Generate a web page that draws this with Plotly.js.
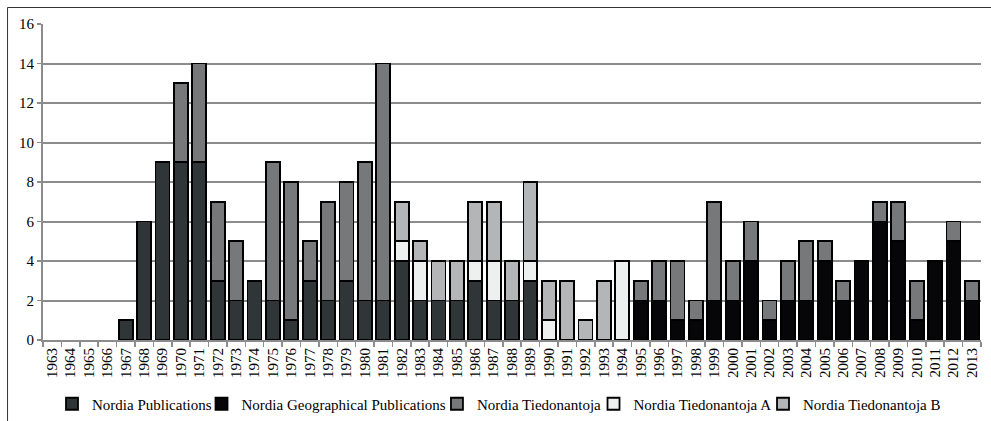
<!DOCTYPE html>
<html>
<head>
<meta charset="utf-8">
<script src="https://cdn.plot.ly/plotly-3.0.1.min.js"></script>
<style>
html,body{margin:0;padding:0;background:#fff;}
#chart{width:991px;height:421px;}
</style>
</head>
<body>
<div id="chart"></div>
<script>
var years = [];
for (var y = 1963; y <= 2013; y++) years.push(String(y));

var nordiaPublications = [0,0,0,0,1,6,9,9,9,3,2,3,2,1,3,2,3,2,2,4,2,2,2,3,2,2,3,
  0,0,0,0,0,0,0,0,0,0,0,0,0,0,0,0,0,0,0,0,0,0,0,0];
var nordiaGeographical = [0,0,0,0,0,0,0,0,0,0,0,0,0,0,0,0,0,0,0,0,0,0,0,0,0,0,0,0,0,0,0,0,
  2,2,1,1,2,2,4,1,2,2,4,2,4,6,5,1,4,5,2];
var nordiaTiedonantoja = [0,0,0,0,0,0,0,
  4,5,4,3,0,7,7,2,5,5,7,12,
  0,0,0,0,0,0,0,0,0,0,0,0,0,
  1,2,3,1,5,2,2,1,2,3,1,1,0,1,2,2,0,1,1];
var nordiaTiedonantojaA = [0,0,0,0,0,0,0,0,0,0,0,0,0,0,0,0,0,0,0,
  1,2,0,0,1,2,0,1,1,0,0,0,4,
  0,0,0,0,0,0,0,0,0,0,0,0,0,0,0,0,0,0,0];
var nordiaTiedonantojaB = [0,0,0,0,0,0,0,0,0,0,0,0,0,0,0,0,0,0,0,
  2,1,2,2,3,3,2,4,2,3,1,3,0,
  0,0,0,0,0,0,0,0,0,0,0,0,0,0,0,0,0,0,0];

var seriesNames = ['Nordia Publications','Nordia Geographical Publications','Nordia Tiedonantoja','Nordia Tiedonantoja A','Nordia Tiedonantoja B'];
var seriesValues = [nordiaPublications, nordiaGeographical, nordiaTiedonantoja, nordiaTiedonantojaA, nordiaTiedonantojaB];
var seriesColors = ['#303538','#060609','#77787a','#eeefef','#b3b5b7'];
var legendIds = ['legend','legend2','legend3','legend4','legend5'];
var legendX = [0.0096, 0.169, 0.42, 0.5869, 0.7676];

var serif = "'Liberation Serif', 'Times New Roman', Times, serif";
var gridCol = '#8c8c8c';

var traces = seriesNames.map(function(n, i){
  return {
    type: 'bar',
    name: n,
    x: years,
    y: seriesValues[i].map(function(v){ return v === 0 ? null : v; }),
    marker: {color: seriesColors[i], line: {color: '#000', width: 1.8}},
    legend: legendIds[i],
    hoverinfo: 'x+y+name'
  };
});

var layout = {
  width: 991, height: 421,
  margin: {l: 43, r: 10, t: 24, b: 81, autoexpand: false},
  paper_bgcolor: '#fff', plot_bgcolor: '#fff',
  barmode: 'stack',
  bargap: 0.24,
  font: {family: serif, size: 15, color: '#000'},
  showlegend: true,
  xaxis: {
    type: 'category',
    tickangle: -90,
    tickson: 'boundaries',
    ticks: 'outside', ticklen: 5, tickcolor: gridCol, tickwidth: 1.5,
    showline: true, linecolor: gridCol, linewidth: 2,
    showgrid: false, zeroline: false, automargin: false,
    tickfont: {family: serif, size: 15, color: '#000'}
  },
  yaxis: {
    range: [0, 16], dtick: 2, tick0: 0,
    showgrid: true, gridcolor: gridCol, gridwidth: 2,
    showline: true, linecolor: gridCol, linewidth: 2,
    ticks: 'outside', ticklen: 4, tickcolor: gridCol, tickwidth: 1.5,
    zeroline: false, automargin: false,
    tickfont: {family: serif, size: 15, color: '#000'}
  },
  shapes: [
    {type: 'line', xref: 'paper', yref: 'paper', x0: -0.0378, x1: 1.05, y0: 1.0522, y1: 1.0522,
     line: {color: '#333', width: 1}},
    {type: 'line', xref: 'paper', yref: 'paper', x0: -0.0378, x1: -0.0378, y0: 1.0522, y1: -0.35,
     line: {color: '#333', width: 1}}
  ]
};
legendIds.forEach(function(id, i){
  layout[id] = {
    orientation: 'h', x: legendX[i], xanchor: 'left', y: -0.2025, yanchor: 'middle',
    font: {family: serif, size: 15, color: '#000'},
    itemwidth: 30, bgcolor: 'rgba(0,0,0,0)', borderwidth: 0
  };
});

Plotly.newPlot('chart', traces, layout, {displayModeBar: false, staticPlot: true});
</script>
</body>
</html>
